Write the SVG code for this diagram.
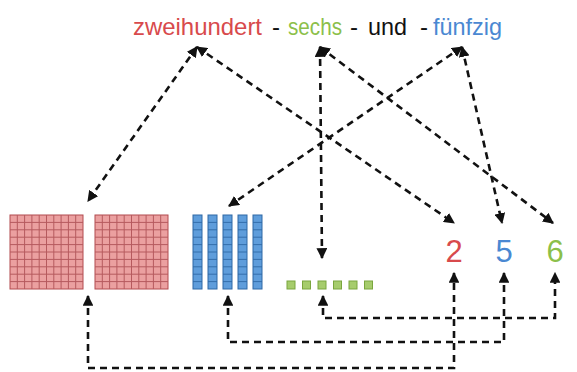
<svg xmlns="http://www.w3.org/2000/svg" width="577" height="372" viewBox="0 0 577 372">
  <defs>
    <style>
      .word { font-family: "Liberation Sans", Arial, sans-serif; font-size: 24px; }
      .digit { font-family: "Liberation Sans", Arial, sans-serif; font-size: 31px; text-anchor: middle; }
      .red { fill: #d84a4c; }
      .green { fill: #8cbf4a; }
      .blue { fill: #4a88d2; }
      .dark { fill: #111; }
      .link { fill: none; stroke: #111; stroke-width: 2.6; stroke-dasharray: 7 5; marker-start: url(#tip); marker-end: url(#tip); }
      .hundred { fill: #eba0a0; stroke: #b24a4e; stroke-width: 1; }
      .hgrid { stroke: #b65a5e; stroke-width: 1; }
      .rod { fill: #5f9ddb; stroke: #2f69a6; stroke-width: 1; }
      .cube { fill: #a6cc6c; stroke: #7aa63e; stroke-width: 1; }
    </style>
    <marker id="tip" viewBox="0 0 10 10" refX="9" refY="5" markerWidth="4.2" markerHeight="4.2" orient="auto-start-reverse" markerUnits="strokeWidth">
      <path d="M0,0 L10,5 L0,10 z" fill="#111"/>
    </marker>
    <!-- a 10x10 block of unit squares -->
    <g id="block">
      <rect class="hundred" x="0" y="0" width="73" height="74"/>
      <path class="hgrid" d="M7.3,0V74M14.6,0V74M21.9,0V74M29.2,0V74M36.5,0V74M43.8,0V74M51.1,0V74M58.4,0V74M65.7,0V74
                             M0,7.4H73M0,14.8H73M0,22.2H73M0,29.6H73M0,37H73M0,44.4H73M0,51.8H73M0,59.2H73M0,66.6H73"/>
    </g>
    <!-- a rod of ten unit squares -->
    <g id="rodshape">
      <rect class="rod" x="0" y="0" width="9" height="74"/>
      <path d="M0,7.4H9M0,14.8H9M0,22.2H9M0,29.6H9M0,37H9M0,44.4H9M0,51.8H9M0,59.2H9M0,66.6H9" stroke="#2f69a6" stroke-width="0.9"/>
    </g>
  </defs>

  <rect width="577" height="372" fill="#ffffff"/>

  <!-- number word -->
  <g id="title">
    <text class="word red" x="133" y="35" textLength="129" lengthAdjust="spacingAndGlyphs">zweihundert</text>
    <text class="word dark" x="272" y="35">-</text>
    <text class="word green" x="288" y="35" textLength="54" lengthAdjust="spacingAndGlyphs">sechs</text>
    <text class="word dark" x="350" y="35">-</text>
    <text class="word dark" x="368" y="35" textLength="39" lengthAdjust="spacingAndGlyphs">und</text>
    <text class="word dark" x="420" y="35">-</text>
    <text class="word blue" x="433" y="35" textLength="69" lengthAdjust="spacingAndGlyphs">fünfzig</text>
  </g>

  <!-- base-ten blocks -->
  <g id="hundreds">
    <use href="#block" x="10" y="215"/>
    <use href="#block" x="95" y="215"/>
  </g>
  <g id="tens">
    <use href="#rodshape" x="193" y="215"/>
    <use href="#rodshape" x="208" y="215"/>
    <use href="#rodshape" x="223" y="215"/>
    <use href="#rodshape" x="238" y="215"/>
    <use href="#rodshape" x="253" y="215"/>
  </g>
  <g id="ones">
    <rect class="cube" x="287" y="281" width="8" height="8"/>
    <rect class="cube" x="302.5" y="281" width="8" height="8"/>
    <rect class="cube" x="318" y="281" width="8" height="8"/>
    <rect class="cube" x="333.5" y="281" width="8" height="8"/>
    <rect class="cube" x="349" y="281" width="8" height="8"/>
    <rect class="cube" x="364.5" y="281" width="8" height="8"/>
  </g>

  <!-- digits -->
  <g id="digit-2"><text class="digit red" x="454" y="262">2</text></g>
  <g id="digit-5"><text class="digit blue" x="504" y="262">5</text></g>
  <g id="digit-6"><text class="digit green" x="555" y="262">6</text></g>

  <!-- connectors -->
  <g id="connectors">
    <path class="link" d="M197,47 L88,201"/>
    <path class="link" d="M197,47 L454,223"/>
    <path class="link" d="M320,47 L322,258"/>
    <path class="link" d="M320,47 L553,223"/>
    <path class="link" d="M462,47 L229,206"/>
    <path class="link" d="M462,47 L502,223"/>
    <path class="link" d="M88,296 L88,368 L454,368 L454,273"/>
    <path class="link" d="M228,296 L228,342 L504,342 L504,273"/>
    <path class="link" d="M323,296 L323,318 L555,318 L555,273"/>
  </g>
</svg>
